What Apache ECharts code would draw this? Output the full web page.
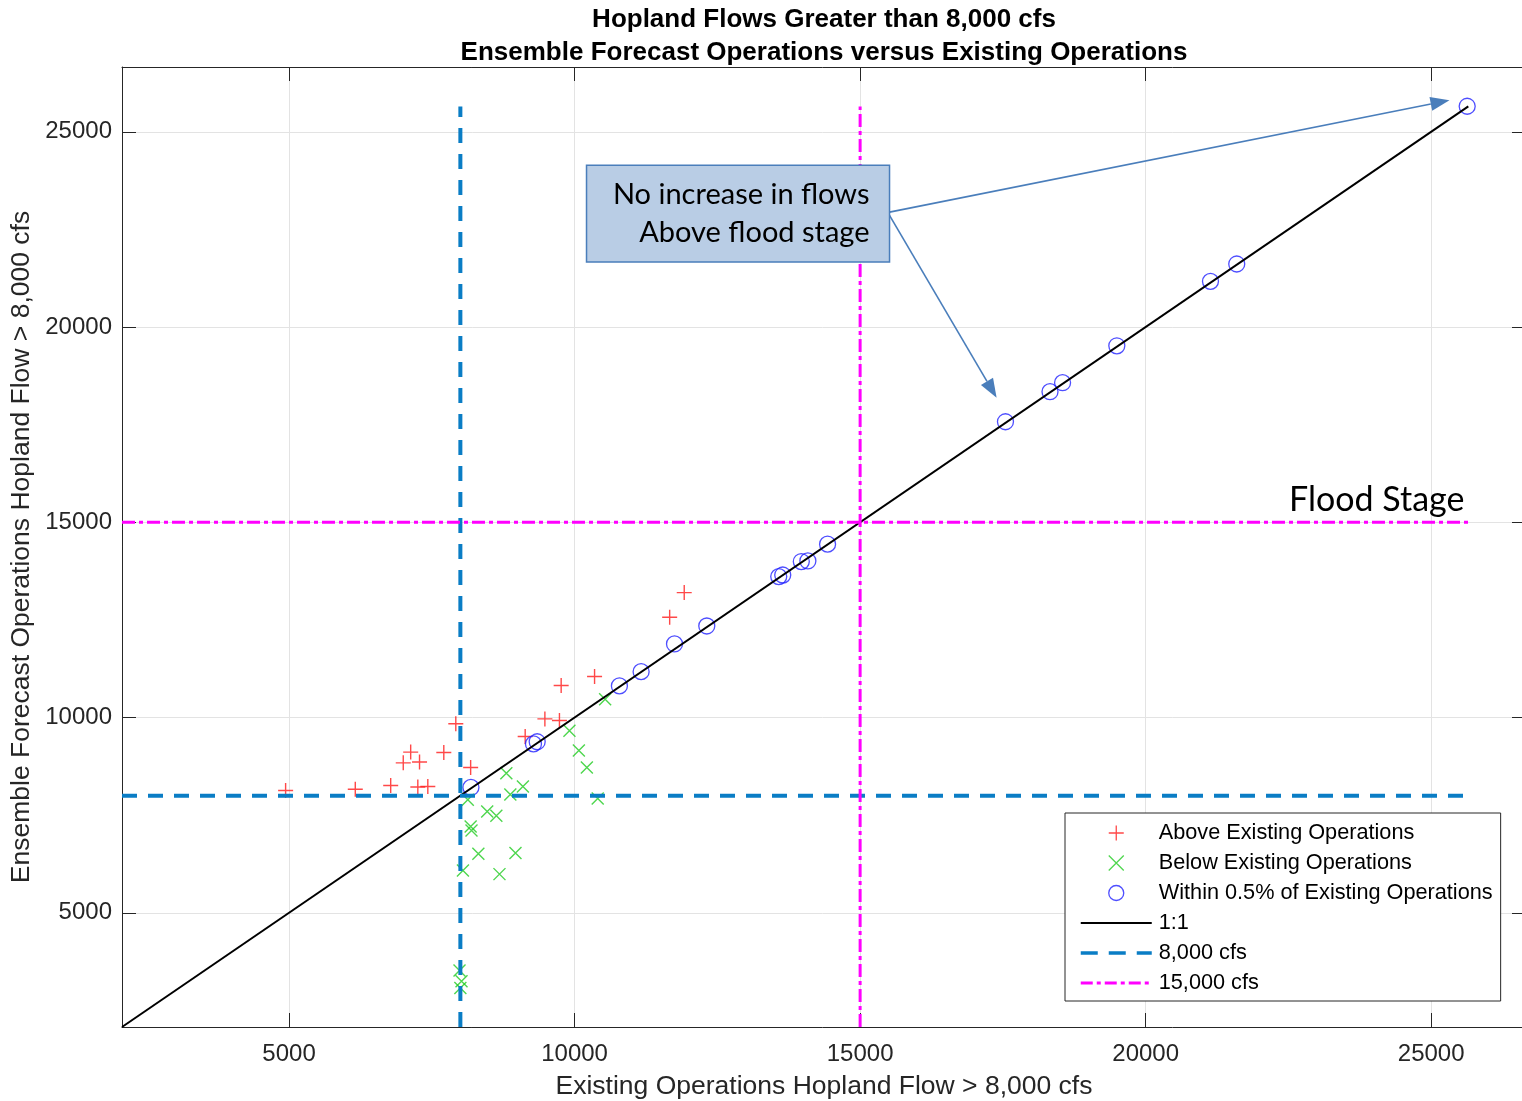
<!DOCTYPE html>
<html>
<head>
<meta charset="utf-8">
<script src="https://cdn.jsdelivr.net/npm/echarts@6/dist/echarts.min.js"></script>
<style>
  html, body { margin: 0; padding: 0; background: #ffffff; }
  #chart { width: 1522px; height: 1101px; }
</style>
</head>
<body>
<div id="chart"></div>
<script>
// Peak flows (cfs): existing operations (x) vs ensemble forecast operations (y)
const aboveX = [4940, 6160, 6780, 7000, 7130, 7285, 7255, 7430, 7710, 7920, 8180, 9135, 9480, 9735, 9765, 10350, 11665, 11920];
const aboveY = [8130, 8165, 8260, 8840, 9115, 8860, 8220, 8235, 9105, 9840, 8720, 9515, 9965, 9925, 10820, 11050, 12570, 13200];

const belowX = [10535, 9910, 10075, 10215, 10405, 8805, 9095, 8875, 8130, 8470, 8630, 8180, 8195, 8315, 8965, 8045, 8685, 7985, 8020, 8000];
const belowY = [10470, 9660, 9155, 8720, 7925, 8575, 8235, 8030, 7895, 7595, 7485, 7210, 7110, 6510, 6530, 6085, 5990, 3525, 3245, 3075];

const withinX = [8185, 9280, 9345, 10785, 11165, 11750, 12315, 13575, 13645, 13970, 14085, 14430, 17545, 18325, 18545, 19495, 21135, 21595, 25630];
const withinY = [8210, 9325, 9380, 10810, 11175, 11885, 12345, 13610, 13650, 13995, 14010, 14440, 17575, 18345, 18575, 19520, 21170, 21615, 25655];

// Axis extent and reference values
const axisMin = 2075;
const axisMax = 26660;
const lineEnd = 25650;
const threshold = 8000;
const floodStage = 15000;
const tickValues = [5000, 10000, 15000, 20000, 25000];

const zip = (xs, ys) => xs.map((x, i) => [x, ys[i]]);

const AXIS_COLOR = '#262626';
const GRID_COLOR = '#e3e3e3';
const NOTE_COLOR = '#4a7ebb';
const SANS = '"Liberation Sans", Arial, sans-serif';

const BLUE_DASH = { color: '#0a7dc5', width: 4, type: [15, 11] };
const MAGENTA_DASHDOT = { color: '#ff00ff', width: 3, type: [13, 4, 4, 4] };

const chart = echarts.init(document.getElementById('chart'), null, { renderer: 'canvas' });

function valueAxis(extra) {
  return Object.assign({
    type: 'value',
    min: axisMin,
    max: axisMax,
    axisLine: { show: true, onZero: false, lineStyle: { color: AXIS_COLOR, width: 1 } },
    axisTick: { show: true, inside: true, length: 14, customValues: tickValues, lineStyle: { color: AXIS_COLOR, width: 1 } },
    axisLabel: { show: false, customValues: tickValues },
    splitLine: { show: false }
  }, extra);
}

const labelStyle = {
  show: true,
  customValues: tickValues,
  color: AXIS_COLOR,
  fontSize: 24,
  fontFamily: SANS,
  formatter: (v) => String(v)
};

const nameStyle = { color: AXIS_COLOR, fontSize: 26.5, fontFamily: SANS, verticalAlign: 'middle' };

// Reference lines carry no marker in the legend
const lineLegend = (name, lineStyle) => ({ name: name, itemStyle: { opacity: 0 }, lineStyle: lineStyle });

const option = {
  animation: false,
  backgroundColor: '#ffffff',
  title: {
    text: 'Hopland Flows Greater than 8,000 cfs\nEnsemble Forecast Operations versus Existing Operations',
    left: 824,
    top: 3,
    textAlign: 'center',
    padding: 0,
    textStyle: {
      color: '#000000',
      fontSize: 26,
      fontWeight: 'bold',
      fontFamily: SANS,
      lineHeight: 33
    }
  },
  grid: {
    left: 122,
    top: 67,
    width: 1404,
    height: 960,
    containLabel: false,
    outerBoundsMode: 'none'
  },
  xAxis: [
    valueAxis({
      position: 'bottom',
      name: 'Existing Operations Hopland Flow > 8,000 cfs',
      nameLocation: 'middle',
      nameGap: 60,
      nameMoveOverlap: false,
      nameTextStyle: nameStyle,
      axisLabel: Object.assign({ margin: 15 }, labelStyle),
      splitLine: { show: true, lineStyle: { color: GRID_COLOR, width: 1 } }
    }),
    valueAxis({ position: 'top' })
  ],
  yAxis: [
    valueAxis({
      position: 'left',
      name: 'Ensemble Forecast Operations Hopland Flow > 8,000 cfs',
      nameLocation: 'middle',
      nameGap: 100,
      nameMoveOverlap: false,
      nameTextStyle: nameStyle,
      axisLabel: Object.assign({ margin: 10 }, labelStyle),
      splitLine: { show: true, lineStyle: { color: GRID_COLOR, width: 1 } }
    }),
    valueAxis({ position: 'right' })
  ],
  legend: {
    orient: 'vertical',
    left: 1065,
    top: 813,
    padding: [5, 8, 3, 14],
    itemWidth: 71,
    itemHeight: 15,
    itemGap: 0,
    backgroundColor: '#ffffff',
    borderColor: AXIS_COLOR,
    borderWidth: 1,
    borderRadius: 0,
    selectedMode: false,
    itemStyle: { borderWidth: 1.3 },
    textStyle: {
      color: '#000000',
      fontSize: 21.7,
      fontFamily: SANS,
      lineHeight: 30,
      padding: [0, 0, 0, 2]
    },
    data: [
      'Above Existing Operations',
      'Below Existing Operations',
      'Within 0.5% of Existing Operations',
      lineLegend('1:1', { color: '#000000', width: 2 }),
      lineLegend('8,000 cfs', { color: BLUE_DASH.color, width: 3.5, type: [17, 11] }),
      lineLegend('15,000 cfs', { color: MAGENTA_DASHDOT.color, width: 3, type: [12, 4, 4, 4] })
    ]
  },
  series: [
    {
      name: 'Above Existing Operations',
      type: 'scatter',
      symbol: 'path://M0,5L10,5M5,0L5,10',
      symbolSize: 15,
      itemStyle: { color: 'rgba(0,0,0,0)', borderColor: '#ff1a1a', borderWidth: 1.4 },
      data: zip(aboveX, aboveY)
    },
    {
      name: 'Below Existing Operations',
      type: 'scatter',
      symbol: 'path://M0,0L10,10M0,10L10,0',
      symbolSize: 12,
      itemStyle: { color: 'rgba(0,0,0,0)', borderColor: '#22cc22', borderWidth: 1.4 },
      data: zip(belowX, belowY)
    },
    {
      name: 'Within 0.5% of Existing Operations',
      type: 'scatter',
      symbol: 'circle',
      symbolSize: 16,
      itemStyle: { color: 'rgba(0,0,0,0)', borderColor: '#2222ff', borderWidth: 1.3 },
      data: zip(withinX, withinY)
    },
    {
      name: '1:1',
      type: 'line',
      symbol: 'none',
      lineStyle: { color: '#000000', width: 2 },
      data: [[axisMin, axisMin], [lineEnd, lineEnd]]
    },
    {
      name: '8,000 cfs',
      type: 'line',
      symbol: 'none',
      lineStyle: BLUE_DASH,
      data: [[threshold, axisMin], [threshold, lineEnd]]
    },
    {
      name: '8,000 cfs',
      type: 'line',
      symbol: 'none',
      lineStyle: BLUE_DASH,
      data: [[axisMin, threshold], [lineEnd, threshold]]
    },
    {
      name: '15,000 cfs',
      type: 'line',
      symbol: 'none',
      lineStyle: MAGENTA_DASHDOT,
      data: [[floodStage, axisMin], [floodStage, lineEnd]]
    },
    {
      name: '15,000 cfs',
      type: 'line',
      symbol: 'none',
      lineStyle: MAGENTA_DASHDOT,
      data: [[axisMin, floodStage], [lineEnd, floodStage]]
    }
  ]
};

chart.setOption(option);

// Callout box, arrows and the flood stage label, anchored in data coordinates
const px = (x, y) => chart.convertToPixel({ gridIndex: 0 }, [x, y]);

function arrow(from, to, headLen, headHalf) {
  const dx = to[0] - from[0], dy = to[1] - from[1];
  const len = Math.sqrt(dx * dx + dy * dy);
  const ux = dx / len, uy = dy / len;
  const base = [to[0] - ux * headLen, to[1] - uy * headLen];
  return [
    {
      type: 'line',
      shape: { x1: from[0], y1: from[1], x2: base[0], y2: base[1] },
      style: { stroke: NOTE_COLOR, lineWidth: 1.6 },
      z: 20
    },
    {
      type: 'polygon',
      shape: { points: [to, [base[0] - uy * headHalf, base[1] + ux * headHalf], [base[0] + uy * headHalf, base[1] - ux * headHalf]] },
      style: { fill: NOTE_COLOR },
      z: 20
    }
  ];
}

const boxTL = px(10209, 24147);
const boxBR = px(15515, 21664);
const start1 = px(15515, 22944);
const start2 = px(15515, 22860);
const tip1 = px(25320, 25810);
const tip2 = px(17390, 18190);
const floodPos = px(25600, 15000);

chart.setOption({
  graphic: [
    {
      type: 'rect',
      shape: { x: boxTL[0], y: boxTL[1], width: boxBR[0] - boxTL[0], height: boxBR[1] - boxTL[1] },
      style: { fill: '#b9cde5', stroke: NOTE_COLOR, lineWidth: 1.5 },
      z: 21
    },
    {
      type: 'text',
      x: boxBR[0] - 20,
      y: boxTL[1] + 11,
      style: {
        text: 'No increase in flows\nAbove flood stage',
        align: 'right',
        verticalAlign: 'top',
        fill: '#000000',
        font: '29px Lato, "Open Sans", sans-serif',
        lineHeight: 38
      },
      z: 22
    },
    ...arrow(start1, tip1, 19, 7),
    ...arrow(start2, tip2, 19, 7),
    {
      type: 'text',
      x: floodPos[0] - 1,
      y: floodPos[1] - 5,
      style: {
        text: 'Flood Stage',
        align: 'right',
        verticalAlign: 'bottom',
        fill: '#000000',
        font: '34px Lato, "Open Sans", sans-serif'
      },
      z: 22
    }
  ]
});
</script>
</body>
</html>
